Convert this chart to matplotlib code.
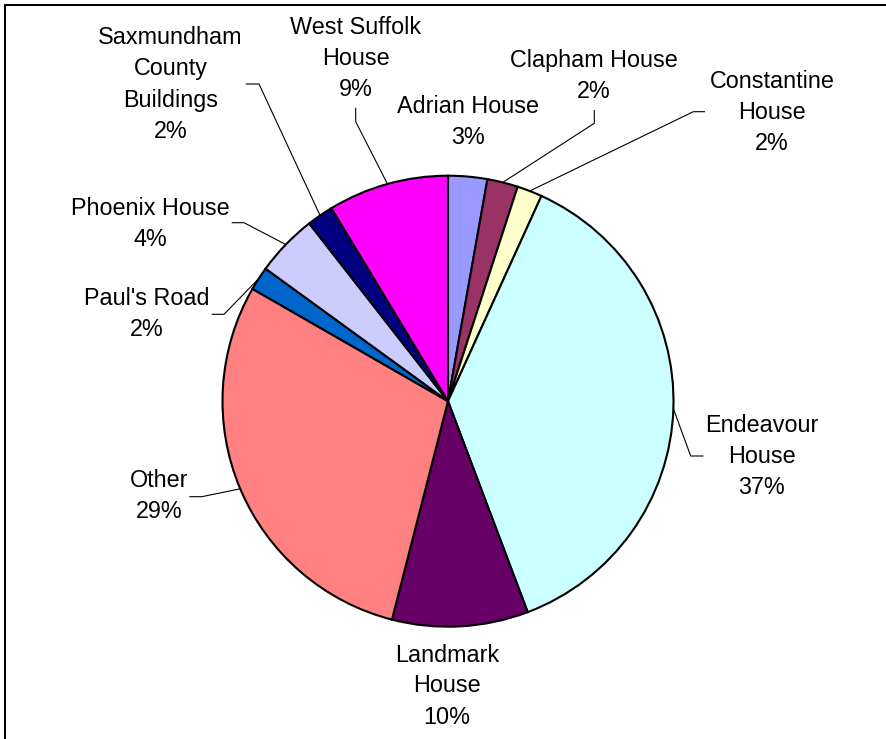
import numpy as np
import matplotlib
matplotlib.use("Agg")
import matplotlib.pyplot as plt
from matplotlib.patches import Rectangle

plt.rcParams['font.family'] = ['Liberation Sans', 'DejaVu Sans']

# data, clockwise from 12 o'clock
buildings = ["Adrian House", "Clapham House", "Constantine\nHouse", "Endeavour\nHouse",
             "Landmark\nHouse", "Other", "Paul's Road", "Phoenix House",
             "Saxmundham\nCounty\nBuildings", "West Suffolk\nHouse"]
shares = [2.8, 2.2, 1.8, 37.45, 9.75, 29.3, 1.7, 4.45, 1.9, 8.65]
colours = ["#9999FF", "#993366", "#FFFFCC", "#CCFFFF", "#660066",
           "#FF8080", "#0066CC", "#CCCCFF", "#000080", "#FF00FF"]

W, H = 886, 739
def ty(y):
    return H - y

# label layout (pixel coords from top-left): text centre x, block centre y, leader elbow
label_pos = [(468, 119.7), (593.5, 73.8), (772, 110.8), (762, 454.7), (447, 684),
             (159, 494.2), (147, 312.2), (150, 221.7), (170.5, 82.5), (355.5, 56.5)]
elbows = [None,
          ((594.3, 110), (594.3, 123.3)),
          ((705, 111.7), (693.3, 111.7)),
          ((703.3, 456), (690.7, 456)),
          None,
          ((189.3, 496.7), (201.7, 496.7)),
          ((211.7, 314.3), (224, 314.3)),
          ((231.7, 222.7), (244, 222.7)),
          ((245.7, 84), (259, 84)),
          ((355.7, 107.7), (355.7, 121.7))]

cx, cy, r = 448, 401.2, 225.5
line_gap = 31

fig = plt.figure(figsize=(W / 100, H / 100), dpi=100)
ax = fig.add_axes([0, 0, 1, 1])
wedges, _ = ax.pie(shares, colors=colours, startangle=90, counterclock=False,
                   center=(cx, ty(cy)), radius=r,
                   wedgeprops=dict(edgecolor="black", linewidth=1.5))
ax.set_xlim(0, W)
ax.set_ylim(0, H)
ax.set_aspect("equal")
ax.axis("off")

total = sum(shares)
for w, name, v, (lx, ly), elb in zip(wedges, buildings, shares, label_pos, elbows):
    lines = name.split("\n") + [f"{round(v / total * 100):.0f}%"]
    n = len(lines)
    for i, t in enumerate(lines):
        ymid = ly + (i - (n - 1) / 2) * line_gap
        ax.text(lx, ty(ymid + 8.5), t, ha="center", va="baseline", fontsize=16.8, color="black")
    if elb is not None:
        mid = np.deg2rad((w.theta1 + w.theta2) / 2)
        px, py = cx + r * np.cos(mid), ty(cy) + r * np.sin(mid)
        (x0, y0), (x1, y1) = elb
        ax.plot([x0, x1, px], [ty(y0), ty(y1), py], color="black", lw=0.8, solid_capstyle="butt")

# chart frame (runs off the right and bottom edges)
fig.patches.append(Rectangle((5 / W, -0.1), 1.1, 1 - 5 / H + 0.1, transform=fig.transFigure,
                             fill=False, edgecolor="black", linewidth=1.5))

fig.savefig("out.png", dpi=100)
